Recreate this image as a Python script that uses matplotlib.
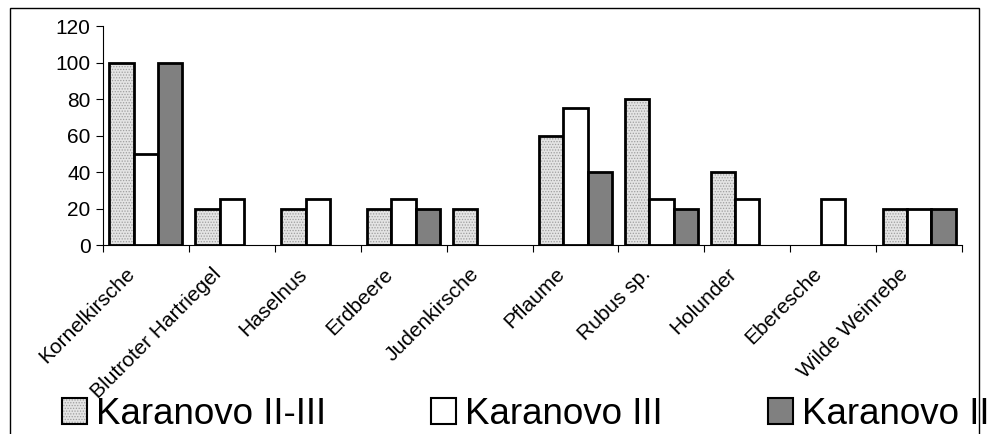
import matplotlib.pyplot as plt
from matplotlib.patches import Patch, Rectangle
from matplotlib.transforms import ScaledTranslation
import numpy as np

plt.rcParams['font.family'] = ['Liberation Sans', 'DejaVu Sans']
plt.rcParams['hatch.linewidth'] = 0.6

# Fruit finds per phase (empty slots = no find)
categories = ['Kornelkirsche', 'Blutroter Hartriegel', 'Haselnus', 'Erdbeere',
              'Judenkirsche', 'Pflaume', 'Rubus sp.', 'Holunder', 'Eberesche',
              'Wilde Weinrebe']
karanovo_2_3 = [100, 20, 20, 20, 20, 60, 80, 40, np.nan, 20]
karanovo_3 = [50, 25, 25, 25, np.nan, 75, 25, 25, 25, 20]
karanovo_2 = [100, np.nan, np.nan, 20, np.nan, 40, 20, np.nan, np.nan, 20]
series_names = ['Karanovo II-III', 'Karanovo III', 'Karanovo II']

W, H = 993, 434
fig = plt.figure(figsize=(W / 100, H / 100), dpi=100)
ax = fig.add_axes([103 / W, 1 - 245 / H, (962 - 103) / W, (245 - 26) / H])

x = np.arange(len(categories)) + 0.5
bw = 0.283
hatch_grey = (0.62, 0.62, 0.62, 1.0)
styles = [
    dict(facecolor='#e4e4e4', hatch='......', edgecolor='black'),
    dict(facecolor='white', edgecolor='black'),
    dict(facecolor='#808080', edgecolor='black'),
]
for i, vals in enumerate([karanovo_2_3, karanovo_3, karanovo_2]):
    bars = ax.bar(x + (i - 1) * bw, vals, bw, linewidth=2.0, zorder=3, **styles[i])
    if i == 0:
        for b in bars:
            b._hatch_color = hatch_grey

ax.set_xlim(0, len(categories))
ax.set_ylim(0, 120)
ax.set_yticks(range(0, 121, 20))
ax.set_xticks(np.arange(len(categories) + 1))
ax.set_xticklabels([])
ax.set_xticks(x, minor=True)
ax.set_xticklabels(categories, minor=True, rotation=45, ha='right',
                   va='center', rotation_mode='anchor', fontsize=15)
ax.tick_params(axis='x', which='minor', length=0, pad=0)
ax.tick_params(axis='x', which='major', length=5, direction='out', width=0.8)
ax.tick_params(axis='y', length=5, direction='out', width=0.8, labelsize=15, pad=4)

# shift the slanted names a bit left/down, as the spreadsheet places them
shift = ScaledTranslation(-14 / 100, -26 / 100, fig.dpi_scale_trans)
for lbl in ax.get_xticklabels(minor=True):
    lbl.set_transform(lbl.get_transform() + shift)

for side in ['top', 'right']:
    ax.spines[side].set_visible(False)
for side in ['left', 'bottom']:
    ax.spines[side].set_linewidth(0.8)

# outer chart frame
fig.add_artist(Rectangle((10 / W, -0.05), (979 - 10) / W, 1 - 8 / H + 0.05,
                         transform=fig.transFigure, fill=False,
                         edgecolor='black', linewidth=1.0))

handles = [Patch(linewidth=1.5, **s) for s in styles]
handles[0]._hatch_color = hatch_grey
fig.legend(handles, series_names, loc='center left',
           bbox_to_anchor=(62 / W, 1 - 414 / H), ncol=3, frameon=False,
           fontsize=26.5, handlelength=0.68, handleheight=0.7,
           handletextpad=0.25, columnspacing=2.85, borderpad=0, borderaxespad=0)

fig.savefig('out.png', dpi=100)
